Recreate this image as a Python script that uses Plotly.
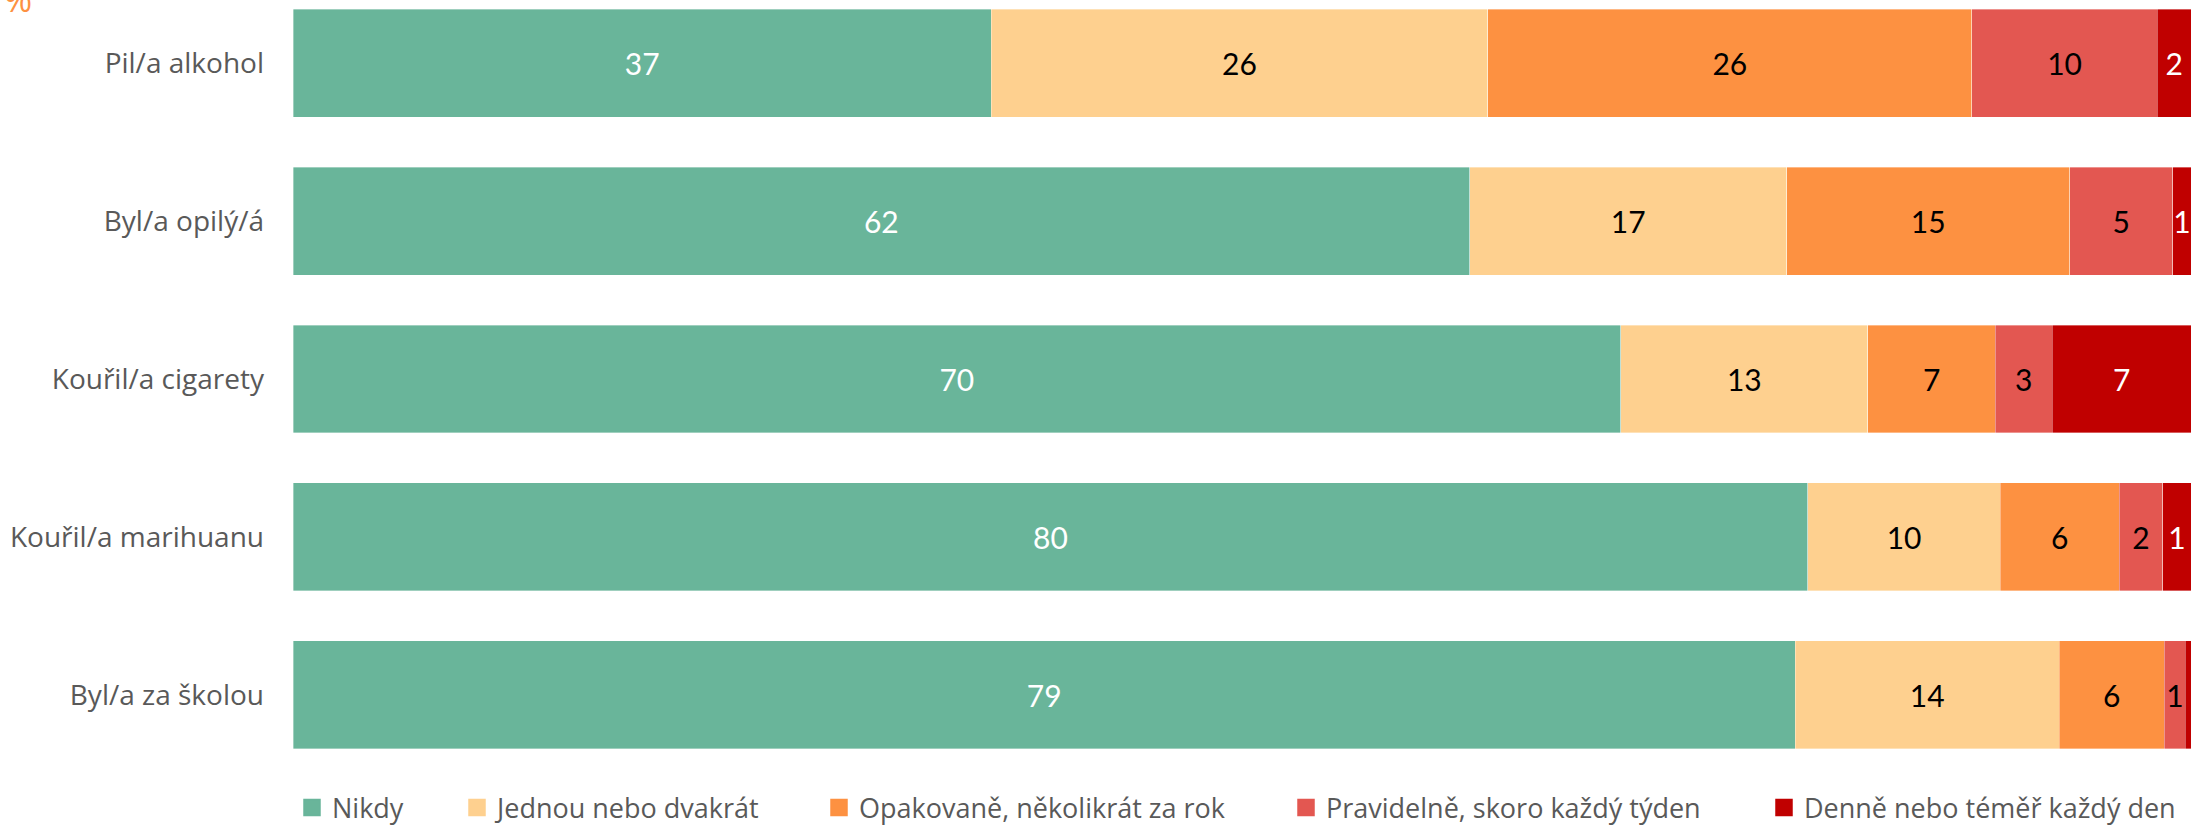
import plotly.graph_objects as go

categories = ["Pil/a alkohol", "Byl/a opilý/á", "Kouřil/a cigarety", "Kouřil/a marihuanu", "Byl/a za školou"]

series_names = ["Nikdy", "Jednou nebo dvakrát", "Opakovaně, několikrát za rok",
                "Pravidelně, skoro každý týden", "Denně nebo téměř každý den"]

nikdy = [36.79, 61.99, 69.95, 79.82, 79.15]
jednou = [26.16, 16.72, 13.03, 10.13, 13.90]
opakovane = [25.51, 14.89, 6.71, 6.26, 5.55]
pravidelne = [9.76, 5.45, 3.00, 2.31, 1.10]
denne = [1.78, 0.95, 7.31, 1.48, 0.30]

series_values = [nikdy, jednou, opakovane, pravidelne, denne]
colors = ["#69B59A", "#FED08F", "#FD9141", "#E35751", "#C00000"]
text_colors = ["#FFFFFF", "#000000", "#000000", "#000000", "#FFFFFF"]

W, H = 2192, 828
ML, MR, MT, MB = 293, 1, 0, 58

fig = go.Figure()

legend_centers_px = [312.0, 477.0, 839.0, 1306.0, 1784.0]
legend_ids = ["legend", "legend2", "legend3", "legend4", "legend5"]

for name, vals, col, tcol, lid in zip(series_names, series_values, colors, text_colors, legend_ids):
    labels = [str(round(v)) if v >= 0.5 else "" for v in vals]
    fig.add_trace(go.Bar(
        y=categories, x=vals, orientation="h", name=name,
        marker=dict(color=col, line=dict(width=0.8, color="rgba(255,255,255,0.45)")),
        text=labels, textposition="inside", insidetextanchor="middle", textangle=0,
        textfont=dict(family="Lato, Open Sans, sans-serif", size=30, color=tcol),
        showlegend=False, hoverinfo="skip", constraintext="none",
    ))
    fig.add_trace(go.Scatter(
        x=[None], y=[None], mode="markers", name=name,
        marker=dict(symbol="square", size=16, color=col, line=dict(width=1.5, color=col)),
        legend=lid, showlegend=True, hoverinfo="skip",
    ))

layout_legends = {}
for lid, cx in zip(legend_ids, legend_centers_px):
    layout_legends[lid] = dict(
        orientation="h", xref="container", yref="container",
        x=(cx - 20) / W, xanchor="left", y=1 - 808 / H, yanchor="middle",
        font=dict(family="Open Sans, sans-serif", size=27, color="#595959"),
        bgcolor="rgba(0,0,0,0)", borderwidth=0,
    )

fig.update_layout(
    width=W, height=H,
    margin=dict(l=ML, r=MR, t=MT, b=MB, autoexpand=False),
    barmode="stack", bargap=0.3165,
    plot_bgcolor="white", paper_bgcolor="white",
    uniformtext=dict(minsize=30, mode="show"),
    xaxis=dict(range=[0, 100], visible=False, fixedrange=True),
    yaxis=dict(
        type="category", categoryorder="array", categoryarray=categories,
        range=[4.475, -0.399], showgrid=False, zeroline=False, showline=False,
        ticks="", ticklabelstandoff=28,
        tickfont=dict(family="Open Sans, sans-serif", size=28, color="#595959"),
    ),
    **layout_legends,
)

fig.add_annotation(
    text="%", xref="paper", yref="paper", x=(34 - ML) / (W - ML - MR), y=1 - 24 / (H - MT - MB),
    xanchor="right", yanchor="bottom", showarrow=False,
    font=dict(family="Open Sans, sans-serif", size=34, color="#FD9141"),
)

fig.write_html(
    "out.html",
    config={"displayModeBar": False},
    post_script="document.body.style.margin='0';document.body.style.padding='0';document.body.style.overflow='hidden';",
)
